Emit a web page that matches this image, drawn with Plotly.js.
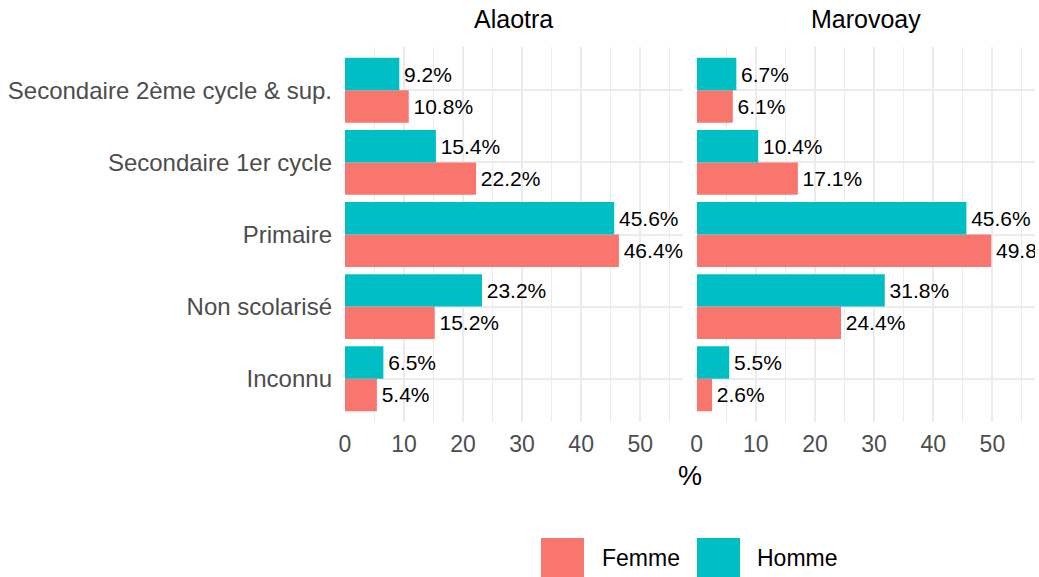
<!DOCTYPE html>
<html>
<head>
<meta charset="utf-8">
<script src="https://cdn.plot.ly/plotly-3.0.1.min.js"></script>
<style>html,body{margin:0;padding:0;background:#fff;}#chart{width:1039px;height:577px;}</style>
</head>
<body>
<div id="chart"></div>
<script>
const categories = ['Inconnu', 'Non scolarisé', 'Primaire', 'Secondaire 1er cycle', 'Secondaire 2ème cycle & sup.'];
const panels = ['Alaotra', 'Marovoay'];
const sexes = ['Femme', 'Homme'];
const alaotraFemme = [5.4, 15.2, 46.4, 22.2, 10.8];
const alaotraHomme = [6.5, 23.2, 45.6, 15.4, 9.2];
const marovoayFemme = [2.6, 24.4, 49.8, 17.1, 6.1];
const marovoayHomme = [5.5, 31.8, 45.6, 10.4, 6.7];
const xTicks = [0, 10, 20, 30, 40, 50];

const colors = {Femme: '#F8766D', Homme: '#00BFC4'};
const FONT = 'Liberation Sans, Arial, sans-serif';

function barTrace(name, vals, xa) {
  return {
    type: 'bar', orientation: 'h', name: name,
    y: categories, x: vals, xaxis: xa, yaxis: 'y',
    marker: {color: colors[name], line: {width: 0}},
    texttemplate: '\u200A%{x:.1f}%', textposition: 'outside',
    textfont: {family: FONT, size: 21, color: '#000'},
    constraintext: 'none', cliponaxis: true,
    showlegend: false, hoverinfo: 'x+y+name'
  };
}

const data = [
  barTrace('Femme', alaotraFemme, 'x'),
  barTrace('Homme', alaotraHomme, 'x'),
  barTrace('Femme', marovoayFemme, 'x2'),
  barTrace('Homme', marovoayHomme, 'x2')
];

const L = 345, R = 4, T = 47, B = 155;
const W = 1039 - L - R, H = 577 - T - B;
const px = v => (v - L) / W;
const py = v => (577 - B - v) / H;

const xCommon = {
  range: [0, 57.2], tickvals: xTicks, ticktext: xTicks.map(String),
  showgrid: true, gridcolor: '#EBEBEB', gridwidth: 2,
  minor: {dtick: 10, tick0: 5, showgrid: true, gridcolor: '#EBEBEB', gridwidth: 1},
  zeroline: false, showline: false, ticks: '',
  tickfont: {family: FONT, size: 23, color: '#4D4D4D'},
  ticklabelstandoff: 6, fixedrange: true
};

const layout = {
  width: 1039, height: 577,
  margin: {l: L, r: R, t: T, b: B},
  paper_bgcolor: '#fff', plot_bgcolor: '#fff',
  barmode: 'group', bargap: 0.1, bargroupgap: 0,
  showlegend: false,
  font: {family: FONT},
  xaxis: Object.assign({domain: [0, px(682.7)], anchor: 'y'}, xCommon),
  xaxis2: Object.assign({domain: [px(696.7), 1], anchor: 'y'}, xCommon),
  yaxis: {
    type: 'category', categoryorder: 'array', categoryarray: categories,
    range: [-0.6, 4.6], showgrid: true, gridcolor: '#EBEBEB', gridwidth: 2,
    zeroline: false, showline: false, ticks: '',
    tickfont: {family: FONT, size: 24, color: '#4D4D4D'},
    ticklabelstandoff: 12, fixedrange: true
  },
  annotations: [
    {text: panels[0], xref: 'paper', yref: 'paper', x: (px(345) + px(682.7)) / 2, y: py(35), xanchor: 'center', yanchor: 'bottom', showarrow: false, font: {family: FONT, size: 25, color: '#000'}},
    {text: panels[1], xref: 'paper', yref: 'paper', x: (px(696.7) + px(1035)) / 2, y: py(35), xanchor: 'center', yanchor: 'bottom', showarrow: false, font: {family: FONT, size: 25, color: '#000'}},
    {text: '%', xref: 'paper', yref: 'paper', x: px(690), y: py(476), xanchor: 'center', yanchor: 'middle', showarrow: false, font: {family: FONT, size: 27, color: '#000'}},
    {text: sexes[0], xref: 'paper', yref: 'paper', x: px(600), y: py(558), xanchor: 'left', yanchor: 'middle', showarrow: false, font: {family: FONT, size: 23, color: '#000'}},
    {text: sexes[1], xref: 'paper', yref: 'paper', x: px(755), y: py(558), xanchor: 'left', yanchor: 'middle', showarrow: false, font: {family: FONT, size: 23, color: '#000'}}
  ],
  shapes: [
    {type: 'rect', xref: 'paper', yref: 'paper', x0: px(541), x1: px(584), y0: py(577), y1: py(538), fillcolor: colors.Femme, line: {width: 0}, layer: 'above'},
    {type: 'rect', xref: 'paper', yref: 'paper', x0: px(697), x1: px(740), y0: py(577), y1: py(538), fillcolor: colors.Homme, line: {width: 0}, layer: 'above'}
  ]
};

Plotly.newPlot('chart', data, layout, {displayModeBar: false, staticPlot: true});
</script>
</body>
</html>
